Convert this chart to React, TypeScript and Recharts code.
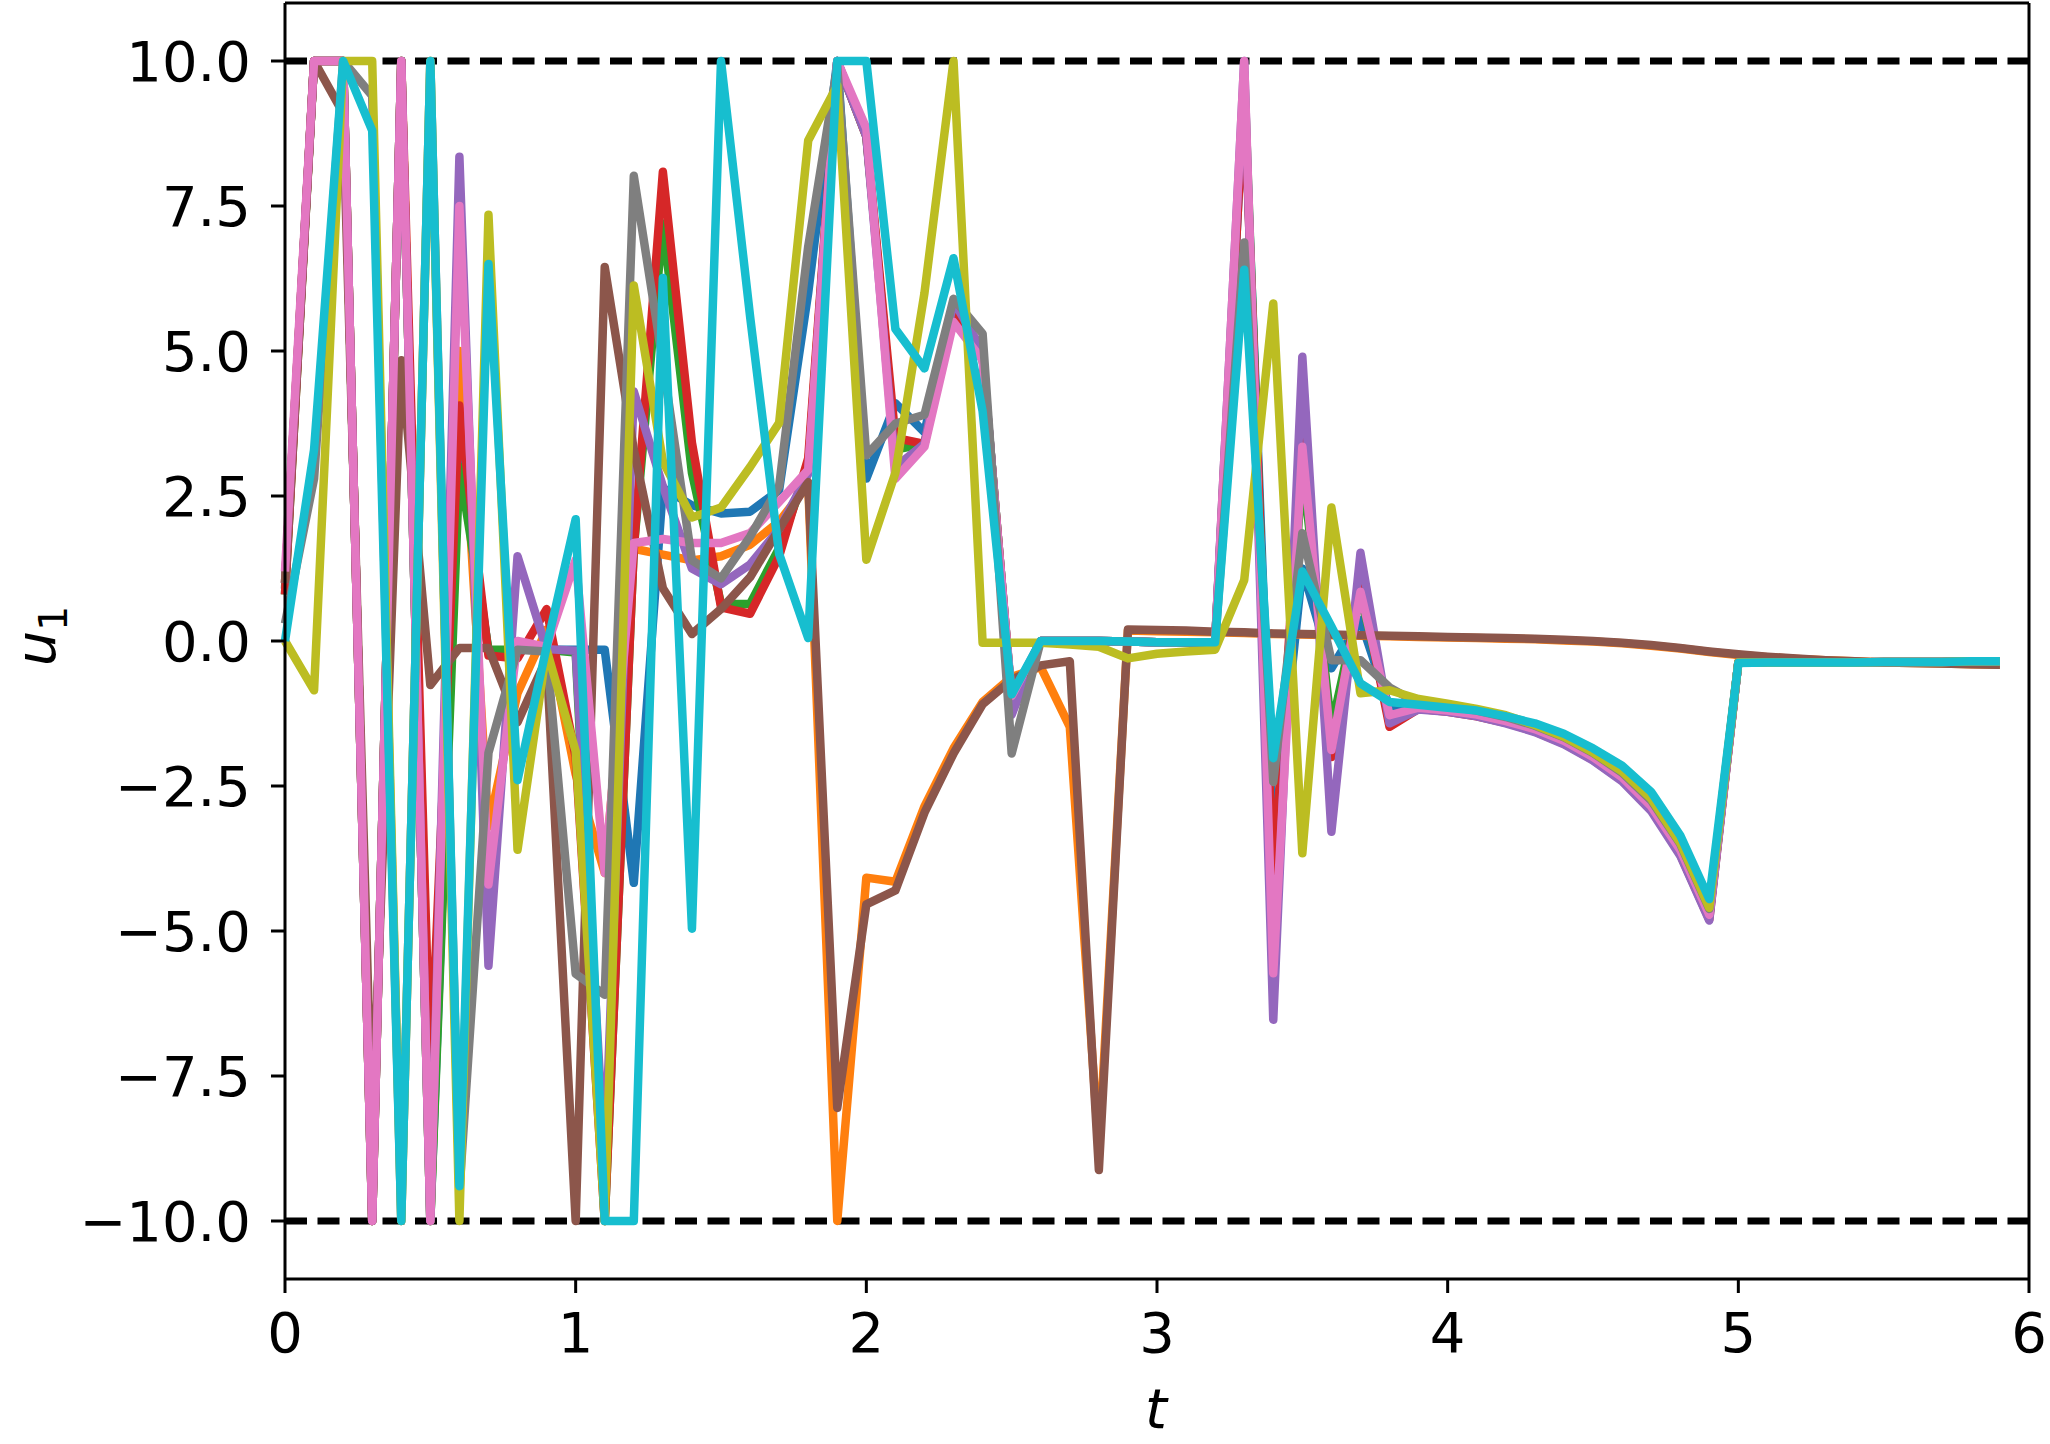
import { LineChart, Line, XAxis, YAxis, ReferenceLine } from 'recharts';

// sample times (s)
const T = [
  0, 0.1, 0.2, 0.3, 0.4, 0.5, 0.6, 0.7, 0.8, 0.9,
  1, 1.1, 1.2, 1.3, 1.4, 1.5, 1.6, 1.7, 1.8, 1.9,
  2, 2.1, 2.2, 2.3, 2.4, 2.5, 2.6, 2.7, 2.8, 2.9,
  3, 3.1, 3.2, 3.3, 3.4, 3.5, 3.6, 3.7, 3.8, 3.9,
  4, 4.1, 4.2, 4.3, 4.4, 4.5, 4.6, 4.7, 4.8, 4.9,
  5, 5.1, 5.2, 5.3, 5.4, 5.5, 5.6, 5.7, 5.8, 5.9,
];

// u_1 for each of the ten runs
const RUN_0 = [
  0.9, 10, 10, -10, 10, -10, 3.5, -0.2, -0.15, -0.15,
  -0.15, -0.15, -4.17, 2.64, 2.34, 2.2, 2.23, 2.6, 6.0, 10,
  2.8, 4.1, 3.6, 5.8, 4.9, -1.0, 0, 0, 0, -0.01,
  -0.02, -0.03, -0.03, 9.5, -3.6, 1.25, -0.47, 0.36, -1.15, -1.12,
  -1.2, -1.28, -1.4, -1.54, -1.74, -2.02, -2.38, -2.88, -3.63, -4.75,
  -0.37, -0.37, -0.37, -0.37, -0.37, -0.36, -0.36, -0.36, -0.35, -0.35,
];
const RUN_1 = [
  1.0, 10, 10, -10, 10, -10, 5.0, -3.2, -0.9, 0.2,
  -2.3, -4.0, 1.59, 1.49, 1.39, 1.46, 1.66, 2.06, 2.7, -10,
  -4.08, -4.15, -2.85, -1.85, -1.05, -0.62, -0.45, -1.48, -8.8, 0.18,
  0.17, 0.16, 0.15, 0.14, 0.12, 0.11, 0.1, 0.09, 0.08, 0.07,
  0.06, 0.05, 0.04, 0.03, 0.01, -0.01, -0.04, -0.08, -0.13, -0.19,
  -0.24, -0.28, -0.31, -0.33, -0.35, -0.37, -0.38, -0.39, -0.4, -0.41,
];
const RUN_2 = [
  0.8, 10, 10, -10, 10, -10, 3.0, -0.15, -0.15, -0.15,
  -0.2, -10, 1.6, 7.2, 2.9, 0.64, 0.64, 1.6, 3.0, 10,
  8.7, 3.3, 3.4, 5.6, 4.9, -1.0, 0, 0, 0, -0.01,
  -0.02, -0.03, -0.03, 9.8, -4.5, 3.0, -1.5, 0.8, -1.3, -1.15,
  -1.2, -1.28, -1.39, -1.53, -1.73, -2.01, -2.36, -2.86, -3.62, -4.74,
  -0.37, -0.37, -0.37, -0.37, -0.37, -0.36, -0.36, -0.36, -0.35, -0.35,
];
const RUN_3 = [
  0.8, 10, 10, -10, 10, -7.5, 4.06, -0.25, -0.3, 0.55,
  -2.0, -10, 1.6, 8.09, 3.42, 0.58, 0.47, 1.46, 3.15, 10,
  8.7, 3.5, 3.4, 5.6, 4.9, -1.0, 0, 0, 0, -0.01,
  -0.02, -0.03, -0.03, 9.5, -4.2, 3.6, -2.0, 1.0, -1.48, -1.17,
  -1.22, -1.3, -1.41, -1.56, -1.77, -2.05, -2.4, -2.9, -3.68, -4.8,
  -0.37, -0.37, -0.37, -0.37, -0.37, -0.36, -0.36, -0.36, -0.35, -0.35,
];
const RUN_4 = [
  1.0, 10, 10, -10, 10, -10, 8.35, -5.6, 1.46, -0.14,
  -0.17, -9.0, 4.3, 2.67, 1.25, 0.98, 1.32, 1.93, 2.88, 10,
  8.7, 3.0, 3.4, 5.86, 5.0, -1.27, 0, 0, 0, -0.01,
  -0.02, -0.03, -0.03, 10, -6.53, 4.9, -3.29, 1.52, -1.42, -1.18,
  -1.22, -1.3, -1.42, -1.57, -1.78, -2.06, -2.42, -2.93, -3.7, -4.82,
  -0.37, -0.37, -0.37, -0.37, -0.37, -0.36, -0.36, -0.36, -0.35, -0.35,
];
const RUN_5 = [
  1.0, 10, 9.1, -8.5, 4.84, -0.76, -0.12, -0.12, -1.4, -0.3,
  -10, 6.45, 3.3, 0.91, 0.12, 0.55, 1.1, 1.93, 2.74, -8.05,
  -4.54, -4.3, -2.96, -1.94, -1.09, -0.67, -0.42, -0.35, -9.12, 0.2,
  0.19, 0.18, 0.16, 0.15, 0.13, 0.12, 0.11, 0.1, 0.09, 0.08,
  0.07, 0.06, 0.05, 0.04, 0.02, 0.0, -0.03, -0.07, -0.12, -0.18,
  -0.23, -0.27, -0.3, -0.33, -0.35, -0.37, -0.38, -0.39, -0.4, -0.41,
];
const RUN_6 = [
  1.2, 10, 10, -10, 10, -10, 7.5, -4.2, 0, -0.1,
  1.4, -4.0, 1.69, 1.76, 1.69, 1.69, 1.86, 2.4, 2.95, 10,
  8.84, 2.8, 3.35, 5.5, 4.84, -0.95, 0, 0, 0, -0.01,
  -0.02, -0.03, -0.03, 10, -5.73, 3.35, -1.88, 0.85, -1.28, -1.15,
  -1.2, -1.27, -1.38, -1.52, -1.72, -2.0, -2.35, -2.85, -3.6, -4.72,
  -0.37, -0.37, -0.37, -0.37, -0.37, -0.36, -0.36, -0.36, -0.35, -0.35,
];
const RUN_7 = [
  0.3, 2.8, 10, 9.4, -10, 10, -9.5, -1.93, -0.15, -0.18,
  -5.74, -6.1, 8.02, 4.8, 1.39, 1.08, 1.8, 2.67, 6.8, 9.9,
  3.2, 3.75, 3.9, 5.9, 5.3, -1.94, 0, 0, 0, -0.01,
  -0.02, -0.03, -0.03, 6.87, -2.43, 1.86, -0.33, -0.33, -0.8, -1.08,
  -1.12, -1.2, -1.31, -1.46, -1.66, -1.93, -2.27, -2.75, -3.5, -4.62,
  -0.37, -0.37, -0.37, -0.37, -0.37, -0.36, -0.36, -0.36, -0.35, -0.35,
];
const RUN_8 = [
  0, -0.85, 10, 10, -10, 10, -10, 7.35, -3.6, -0.15,
  -1.9, -10, 6.13, 3.1, 2.13, 2.3, 3.0, 3.76, 8.63, 9.58,
  1.4, 2.9, 6.0, 10, -0.03, -0.03, -0.03, -0.06, -0.1, -0.3,
  -0.22, -0.18, -0.15, 1.05, 5.82, -3.66, 2.3, -0.9, -0.85, -1.0,
  -1.08, -1.17, -1.28, -1.45, -1.65, -1.92, -2.25, -2.72, -3.48, -4.6,
  -0.37, -0.37, -0.37, -0.37, -0.37, -0.36, -0.36, -0.36, -0.35, -0.35,
];
const RUN_9 = [
  0, 3.3, 10, 8.8, -10, 10, -9.4, 6.5, -2.4, -0.1,
  2.1, -10, -10, 6.26, -4.96, 10, 5.6, 1.5, 0.05, 10,
  10, 5.38, 4.7, 6.6, 3.96, -0.92, 0, 0, 0, -0.01,
  -0.02, -0.02, -0.02, 6.4, -2.02, 1.2, 0.25, -0.73, -1.05, -1.1,
  -1.15, -1.2, -1.3, -1.42, -1.6, -1.85, -2.15, -2.6, -3.35, -4.45,
  -0.38, -0.37, -0.37, -0.37, -0.37, -0.36, -0.36, -0.36, -0.35, -0.35,
];

const RUNS = [RUN_0, RUN_1, RUN_2, RUN_3, RUN_4, RUN_5, RUN_6, RUN_7, RUN_8, RUN_9];
const COLORS = [
  '#1f77b4', '#ff7f0e', '#2ca02c', '#d62728', '#9467bd',
  '#8c564b', '#e377c2', '#7f7f7f', '#bcbd22', '#17becf',
];

const X_TICKS = [0, 1, 2, 3, 4, 5, 6];
const Y_TICKS = [-10, -7.5, -5, -2.5, 0, 2.5, 5, 7.5, 10];
const X_DOMAIN = [0, 6];
const Y_DOMAIN = [-11, 11];
const U_MAX = 10;

const data = T.map((t, i) => {
  const row: Record<string, number> = { t };
  RUNS.forEach((run, j) => {
    row[`u${j}`] = run[i];
  });
  return row;
});

const FONT = '"DejaVu Sans", sans-serif';
const tickStyle = { fontSize: 56, fill: '#000', fontFamily: FONT };
const axisLine = { stroke: '#000', strokeWidth: 3 };
const tickLine = { stroke: '#000', strokeWidth: 3 };

const fmtY = (v: number) => (v < 0 ? '\u2212' : '') + Math.abs(v).toFixed(1);

function XLabel() {
  return (
    <text x={1156} y={1428} textAnchor="middle" fontFamily={FONT} fontSize={56} fontStyle="italic" fill="#000">
      t
    </text>
  );
}

function YLabel() {
  return (
    <g transform="translate(55, 636) rotate(-90)">
      <text x={0} y={0} textAnchor="middle" fontFamily={FONT} fontSize={56} fill="#000">
        <tspan fontStyle="italic">u</tspan>
        <tspan fontSize={39} dy={12}>1</tspan>
      </text>
    </g>
  );
}

export default function App() {
  return (
    <div style={{ position: 'absolute', left: 0, top: 0, width: 2050, height: 1444, background: '#fff' }}>
      <LineChart width={2050} height={1444} data={data} margin={{ top: 3, right: 21, bottom: 0, left: 0 }}>
        <XAxis
          dataKey="t"
          type="number"
          domain={X_DOMAIN}
          ticks={X_TICKS}
          tick={tickStyle}
          tickLine={tickLine}
          axisLine={axisLine}
          tickSize={14}
          tickMargin={19}
          height={165}
          label={<XLabel />}
        />
        <YAxis
          type="number"
          domain={Y_DOMAIN}
          ticks={Y_TICKS}
          tickFormatter={fmtY}
          tick={tickStyle}
          tickLine={tickLine}
          axisLine={axisLine}
          tickSize={14}
          tickMargin={20}
          width={285}
          allowDataOverflow
          label={<YLabel />}
        />
        {/* top and right spines */}
        <ReferenceLine y={Y_DOMAIN[1]} stroke="#000" strokeWidth={3} ifOverflow="visible" />
        <ReferenceLine x={X_DOMAIN[1]} stroke="#000" strokeWidth={3} ifOverflow="visible" />
        <ReferenceLine y={U_MAX} stroke="#000" strokeWidth={7} strokeDasharray="22 10.5" />
        <ReferenceLine y={-U_MAX} stroke="#000" strokeWidth={7} strokeDasharray="22 10.5" />
        {RUNS.map((_, j) => (
          <Line
            key={j}
            type="linear"
            dataKey={`u${j}`}
            stroke={COLORS[j]}
            strokeWidth={8.5}
            strokeLinejoin="round"
            dot={false}
            activeDot={false}
            isAnimationActive={false}
          />
        ))}
      </LineChart>
    </div>
  );
}
